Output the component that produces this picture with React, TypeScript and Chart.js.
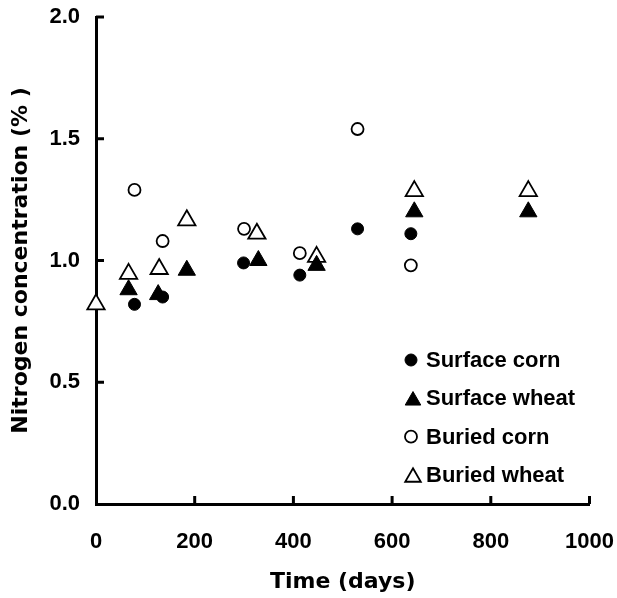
import React, { useEffect, useRef } from 'react';
import { Chart, registerables } from 'chart.js';
import { drawPoint } from 'chart.js/helpers';

Chart.register(...registerables);

// Data
const surfaceCornDays = [78, 135, 299, 413, 530, 638];
const surfaceCornN = [0.82, 0.85, 0.99, 0.94, 1.13, 1.11];
const surfaceWheatDays = [66, 126, 184, 329, 447, 645, 876];
const surfaceWheatN = [0.88, 0.86, 0.96, 1.0, 0.98, 1.2, 1.2];
const buriedCornDays = [78, 135, 300, 413, 530, 638];
const buriedCornN = [1.29, 1.08, 1.13, 1.03, 1.54, 0.98];
const buriedWheatDays = [0, 66, 128, 184, 326, 447, 645, 876];
const buriedWheatN = [0.82, 0.945, 0.965, 1.165, 1.11, 1.015, 1.285, 1.285];

const seriesLabels = ['Surface corn', 'Surface wheat', 'Buried corn', 'Buried wheat'];
const xTickValues = [0, 200, 400, 600, 800, 1000];
const yTickValues = [0, 0.5, 1.0, 1.5, 2.0];
const xTitle = 'Time (days)';
const yTitle = 'Nitrogen concentration (% )';

const toPoints = (xs: number[], ys: number[]) => xs.map((x, i) => ({ x, y: ys[i] }));

const insideTicks = {
  id: 'insideTicks',
  afterDraw(chart: any) {
    const { ctx, chartArea, scales } = chart;
    ctx.save();
    ctx.strokeStyle = '#000';
    ctx.lineWidth = 3;
    ctx.beginPath();
    for (const v of xTickValues) {
      const px = scales.x.getPixelForValue(v);
      if (v === 0) continue;
      ctx.moveTo(px, chartArea.bottom);
      ctx.lineTo(px, chartArea.bottom - 8);
    }
    for (const v of yTickValues) {
      const py = scales.y.getPixelForValue(v);
      if (v === 0) continue;
      ctx.moveTo(chartArea.left, py);
      ctx.lineTo(chartArea.left + 8, py);
    }
    ctx.stroke();
    ctx.restore();
  },
};

const legendRows = [360, 398.3, 436.7, 475];

const innerLegend = {
  id: 'innerLegend',
  afterDraw(chart: any) {
    const { ctx } = chart;
    ctx.save();
    chart.data.datasets.forEach((ds: any, i: number) => {
      const cy = legendRows[i];
      const isTri = ds.pointStyle === 'triangle';
      const r = isTri ? 9 : 6;
      ctx.fillStyle = ds.pointBackgroundColor;
      ctx.strokeStyle = ds.pointBorderColor;
      ctx.lineWidth = ds.pointBorderWidth;
      drawPoint(ctx, { pointStyle: ds.pointStyle, radius: r, rotation: 0, borderWidth: ds.pointBorderWidth }, isTri ? 413 : 411, isTri ? cy + r / 4 : cy);
      ctx.fillStyle = '#000';
      ctx.font = 'bold 22px "Liberation Sans", Arial, sans-serif';
      ctx.textBaseline = 'middle';
      ctx.textAlign = 'left';
      ctx.fillText(ds.label, 426, cy + 1);
    });
    ctx.restore();
  },
};

export default function App() {
  const ref = useRef<HTMLCanvasElement | null>(null);

  useEffect(() => {
    if (!ref.current) return;
    const tickFont = { family: '"Liberation Sans", Arial, sans-serif', size: 22, weight: 'bold' as const };
    const titleFont = { family: '"DejaVu Sans", sans-serif', size: 22, weight: 'bold' as const };
    const mk = (label: string, pts: any[], style: string, filled: boolean, radius: number) => ({
      label,
      data: pts,
      showLine: false,
      pointStyle: style,
      pointRadius: radius,
      pointHoverRadius: radius,
      pointBackgroundColor: filled ? '#000' : '#fff',
      pointBorderColor: '#000',
      pointBorderWidth: filled ? 1 : 1.8,
      clip: false,
    });
    const chart = new Chart(ref.current, {
      type: 'scatter',
      data: {
        datasets: [
          mk(seriesLabels[0], toPoints(surfaceCornDays, surfaceCornN), 'circle', true, 6),
          mk(seriesLabels[1], toPoints(surfaceWheatDays, surfaceWheatN), 'triangle', true, 10),
          mk(seriesLabels[2], toPoints(buriedCornDays, buriedCornN), 'circle', false, 6),
          mk(seriesLabels[3], toPoints(buriedWheatDays, buriedWheatN), 'triangle', false, 10),
        ] as any,
      },
      options: {
        responsive: false,
        animation: false,
        events: [],
        layout: { padding: { left: 0, top: 17, right: 27.5, bottom: 0 } },
        plugins: { legend: { display: false }, tooltip: { enabled: false } },
        scales: {
          x: {
            type: 'linear',
            min: 0,
            max: 1000,
            afterFit: (s: any) => { s.height = 94; s.paddingLeft = 0; s.paddingRight = 0; },
            afterBuildTicks: (s: any) => { s.ticks = xTickValues.map((v) => ({ value: v })); },
            ticks: { font: tickFont, color: '#000', padding: 25, maxRotation: 0, callback: (v: any) => String(v) },
            grid: { display: true, drawOnChartArea: false, drawTicks: false, color: 'rgba(0,0,0,0)' },
            border: { display: true, width: 3, color: '#000' },
            title: { display: true, text: xTitle, font: titleFont, color: '#000', padding: { top: 0, bottom: 3 } },
          },
          y: {
            type: 'linear',
            min: 0,
            max: 2,
            afterFit: (s: any) => { s.width = 96; s.paddingTop = 0; s.paddingBottom = 0; },
            afterBuildTicks: (s: any) => { s.ticks = yTickValues.map((v) => ({ value: v })); },
            ticks: { font: tickFont, color: '#000', padding: 16, callback: (v: any) => Number(v).toFixed(1) },
            grid: { display: true, drawOnChartArea: false, drawTicks: false, color: 'rgba(0,0,0,0)' },
            border: { display: true, width: 3, color: '#000' },
            title: { display: true, text: yTitle, font: titleFont, color: '#000', padding: { top: 8, bottom: 0 } },
          },
        },
      } as any,
      plugins: [insideTicks, innerLegend],
    });
    return () => chart.destroy();
  }, []);

  return (
    <div style={{ position: 'absolute', left: 0, top: 0, width: 617, height: 598, background: '#fff' }}>
      <canvas ref={ref} width={617} height={598} style={{ display: 'block' }} />
    </div>
  );
}
